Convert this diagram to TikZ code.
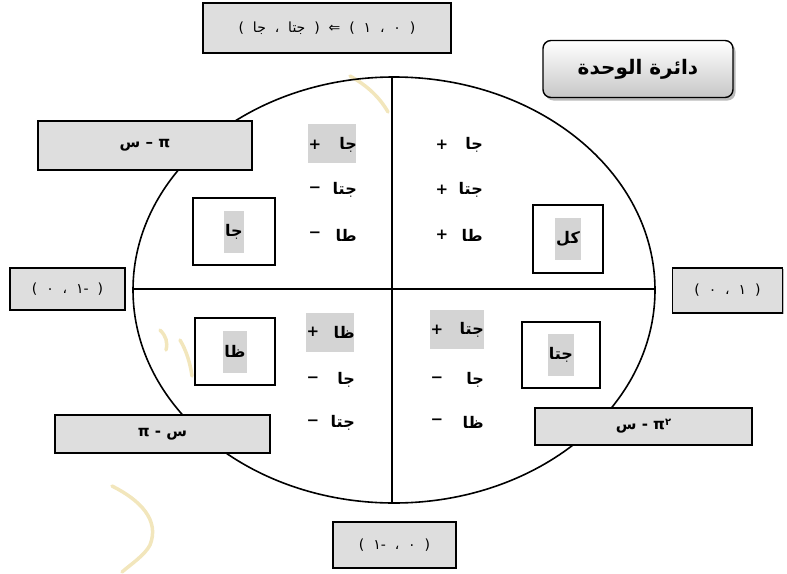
\documentclass[tikz,border=0pt]{standalone}
\usepackage{fontspec}
\setmainfont{DejaVu Sans}
\newfontfamily\ar[Script=Arabic]{DejaVu Sans}
\TeXXeTstate=1
\usetikzlibrary{shadows}
\definecolor{boxgray}{HTML}{DEDEDE}
\definecolor{hl}{HTML}{D4D4D4}
\definecolor{wm}{HTML}{F2E6BC}
\tikzset{
  graybox/.style={draw=black, line width=1.5pt, fill=boxgray, inner sep=0pt,
    drop shadow={shadow xshift=1.2pt, shadow yshift=-1.2pt, fill=black!55},
    font=\ar\fontsize{14}{16}\selectfont},
  anglebox/.style={graybox, font=\ar\bfseries\fontsize{15}{17}\selectfont},
  whitebox/.style={draw=black, line width=1.8pt, fill=white, inner sep=0pt},
  sgn/.style={font=\ar\bfseries\fontsize{15}{17}\selectfont, inner sep=0pt},
  word/.style={font=\ar\bfseries\fontsize{16}{18}\selectfont, inner sep=0pt, anchor=east},
  hlword/.style={fill=hl, inner xsep=1pt, minimum height=42pt, font=\ar\bfseries\fontsize{16}{18}\selectfont},
  hlbox/.style={fill=hl, draw=none},
  axisline/.style={line width=1.6pt},
  wmark/.style={draw=wm, line width=3.5pt, line cap=round},
}
\begin{document}
\begin{tikzpicture}[x=1pt,y=-1pt]
\useasboundingbox (0,0) rectangle (787,573);

% watermark strokes
\draw[wmark] (350,76) .. controls (368,86) and (380,98) .. (388,112);
\draw[wmark] (160,330) .. controls (166,336) and (168,342) .. (166,350);
\draw[wmark] (180,340) .. controls (186,350) and (190,362) .. (192,376);
\draw[wmark] (112,486) .. controls (140,500) and (160,520) .. (150,545) .. controls (145,555) and (130,565) .. (122,572);

% unit circle and axes
\draw[axisline] (394,290) ellipse [x radius=261, y radius=213];
\coordinate (N) at (392,77);
\coordinate (S) at (392,503);
\coordinate (W) at (133,289);
\coordinate (E) at (655,289);
\draw[axisline] (N) -- (S);
\draw[axisline] (W) -- (E);

% title
\node[draw=black, line width=1.4pt, rounded corners=8pt,
      top color=white, bottom color=black!22,
      drop shadow={shadow xshift=2.5pt, shadow yshift=-3pt, fill=black!45, opacity=.6},
      minimum width=190pt, minimum height=57pt, inner sep=0pt,
      font=\ar\bfseries\fontsize{20}{22}\selectfont] (title) at (638,69) {\beginR دائرة الوحدة\endR};

% gray boxes
\node[graybox, minimum width=248pt, minimum height=50pt] (topbox) at (327,28)
  {\beginR(\ \ ٠\ \ ،\ \ ١\ \ )\ \ ⇐\ \ (\ \ جتا\ \ ،\ \ جا\ \ )\endR};
\node[anglebox, minimum width=214pt, minimum height=49pt] (q2box) at (145,145.5) {\beginR π – س\endR};
\node[graybox, minimum width=115pt, minimum height=42pt] (wbox) at (67.5,289)
  {\beginR(\ \ -١\ \ ،\ \ ٠\ \ )\endR};
\node[graybox, minimum width=110pt, minimum height=45pt] (ebox) at (727.5,290.5)
  {\beginR(\ \ ١\ \ ،\ \ ٠\ \ )\endR};
\node[anglebox, minimum width=215pt, minimum height=38pt] (q3box) at (162.5,434) {\beginR س - π\endR};
\node[anglebox, minimum width=217pt, minimum height=37pt] (q4box) at (643.5,426.5)
  {\beginR\raisebox{4pt}{\fontsize{10}{12}\selectfont ٢}π - س\endR};
\node[graybox, minimum width=123pt, minimum height=46pt] (sbox) at (394.5,545)
  {\beginR(\ \ ٠\ \ ،\ \ -١\ \ )\endR};

% white boxes
\node[whitebox, minimum width=82pt, minimum height=67pt] (jabox) at (234,231.5) {};
\node[hlword] (jat) at (jabox) {جا};
\node[whitebox, minimum width=70pt, minimum height=68pt] (klbox) at (568,239) {};
\node[hlword] (klt) at (klbox) {كل};
\node[whitebox, minimum width=80pt, minimum height=67pt] (zabox) at (235,351.5) {};
\node[hlword] (zat) at (zabox) {ظا};
\node[whitebox, minimum width=78pt, minimum height=66pt] (jtabox) at (561,355) {};
\node[hlword] (jtat) at (jtabox) {جتا};

% highlights
\fill[hlbox] (308,124) rectangle (356,163);
\fill[hlbox] (306,313) rectangle (354,352);
\fill[hlbox] (430,310) rectangle (484,349);

% quadrant I
\node[sgn] (s11) at (442,145) {+};
\node[word] (w11) at (483,145) {جا};
\node[sgn] (s12) at (442,190) {+};
\node[word] (w12) at (483,190) {جتا};
\node[sgn] (s13) at (442,235) {+};
\node[word] (w13) at (483,235) {طا};
% quadrant II
\node[sgn] (s21) at (315,145) {+};
\node[word] (w21) at (357,145) {جا};
\node[sgn] (s22) at (315,190) {−};
\node[word] (w22) at (357,190) {جتا};
\node[sgn] (s23) at (315,235) {−};
\node[word] (w23) at (357,235) {طا};
% quadrant III
\node[sgn] (s31) at (313,332) {+};
\node[word] (w31) at (355,332) {ظا};
\node[sgn] (s32) at (313,380) {−};
\node[word] (w32) at (355,380) {جا};
\node[sgn] (s33) at (313,423) {−};
\node[word] (w33) at (355,423) {جتا};
% quadrant IV
\node[sgn] (s41) at (437,330) {+};
\node[word] (w41) at (484,330) {جتا};
\node[sgn] (s42) at (437,380) {−};
\node[word] (w42) at (484,380) {جا};
\node[sgn] (s43) at (437,422) {−};
\node[word] (w43) at (484,422) {ظا};
\end{tikzpicture}
\end{document}
